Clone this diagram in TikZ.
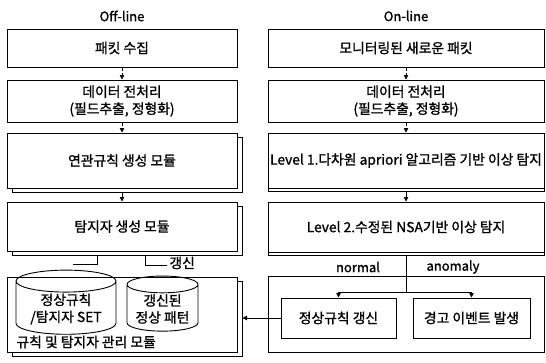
\documentclass[tikz,border=0pt]{standalone}
\usepackage{fontspec}
\setmainfont{Noto Sans CJK KR}[FakeBold=1.2]
\usetikzlibrary{shadows,arrows.meta,shapes.geometric}
\begin{document}
\begin{tikzpicture}[x=1pt,y=-1pt,
  txt/.style={font=\fontsize{13.8}{17}\selectfont},
  box/.style={draw, line width=1pt, fill=white, inner sep=0pt, align=center, txt},
  lbox/.style={box, minimum width=230pt},
  rbox/.style={box, minimum width=276pt},
  shad/.style={copy shadow={shadow xshift=5pt, shadow yshift=-4pt}},
  rshad/.style={copy shadow={shadow xshift=0pt, shadow yshift=-3pt}},
  arr/.style={line width=0.8pt, -{Triangle[width=4.5pt,length=4.5pt]}},
  darr/.style={arr, densely dashed},
  cyl/.style={draw, line width=0.9pt, cylinder, shape border rotate=90, aspect=0.3, align=center, txt, inner sep=1pt},
  lab/.style={font=\fontsize{13}{15}\selectfont}
]
\useasboundingbox[fill=white] (0,0) rectangle (546,362);

% headings
\node[lab] (offl) at (122,16) {Off-line};
\node[lab] (onl) at (406,16) {On-line};

% left column
\node[lbox, minimum height=38pt] (L1) at (122,48) {패킷 수집};
\node[lbox, minimum height=42pt] (L2) at (122,101) {데이터 전처리\\(필드추출, 정형화)};
\node[lbox, shad, minimum height=55pt] (L3) at (122,160.5) {연관규칙 생성 모듈};
\node[lbox, shad, minimum height=49pt] (L4) at (122,226.5) {탐지자 생성 모듈};
\node[lbox, shad, minimum height=75pt] (L5) at (122,314.5) {};
\node[txt, anchor=west] (L5t) at (13,342) {규칙 및 탐지자 관리 모듈};
\node[cyl, minimum width=100pt, minimum height=46pt] (C1) at (66,309) {정상규칙\\/탐지자 SET};
\node[cyl, minimum width=71pt, minimum height=46pt] (C2) at (162.5,309) {갱신된\\정상 패턴};

% right column
\node[rbox, minimum height=38pt] (R1) at (406,48) {모니터링된 새로운 패킷};
\node[rbox, minimum height=42pt] (R2) at (406,101) {데이터 전처리\\(필드추출, 정형화)};
\node[rbox, rshad, minimum height=55pt] (R3) at (406,160.5) {Level 1.다차원 apriori 알고리즘 기반 이상 탐지};
\node[rbox, rshad, minimum height=50pt] (R4) at (406,227) {Level 2.수정된 NSA기반 이상 탐지};
\node[rbox, minimum height=76pt] (R5) at (406,314) {};
\node[box, minimum width=115pt, minimum height=40pt] (A) at (338.5,318) {정상규칙 갱신};
\node[box, minimum width=117pt, minimum height=40pt] (B) at (471.5,318) {경고 이벤트 발생};
\node[lab] (nor) at (358,267) {normal};
\node[lab] (ano) at (453,267) {anomaly};

% arrows left
\draw[darr] (L1) -- (L2);
\draw[darr] (L2) -- (L3);
\draw[arr] ([yshift=-4pt]L3.south) -- (L4);
% right
\draw[darr] (R1) -- (R2);
\draw[darr] (R2) -- (R3);
\draw[arr] ([yshift=-3pt]R3.south) -- (R4);
\coordinate (split) at (406,292);
\draw[line width=0.8pt] ([yshift=-3pt]R4.south) -- (split);
\draw[arr] (split) -| (A.north);
\draw[arr] (split) -| (B.north);
\draw[arr] (A.west) -- ([xshift=5pt]L5.east |- A.west);

% update block arrow
\coordinate (s1) at (97,255);
\coordinate (s2) at (145,255);
\draw[line width=0.9pt] (73,264) -- (97,264) -- (s1);
\draw[line width=0.9pt] (167,265) -- (145,265) -- (s2);
\node[txt, anchor=west] (upd) at (166,263) {갱신};
\end{tikzpicture}
\end{document}
